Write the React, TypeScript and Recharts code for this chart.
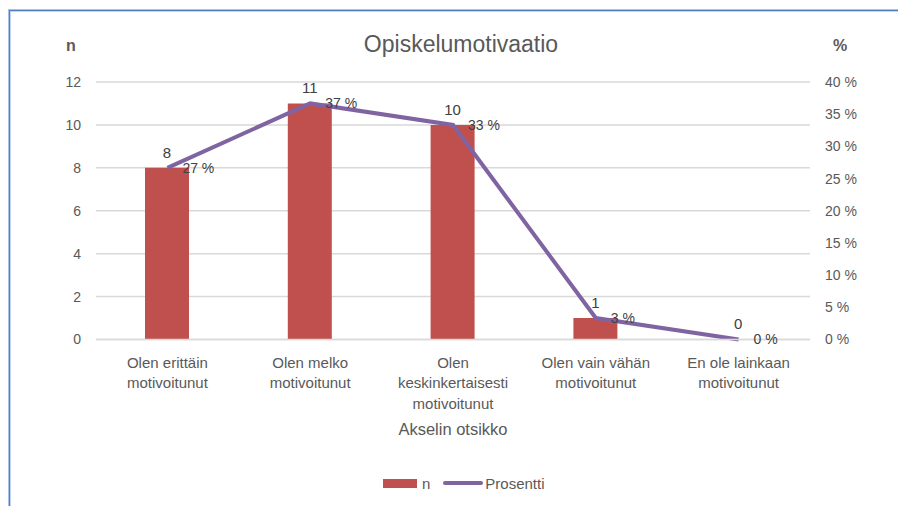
import React from 'react';
import {
  ComposedChart,
  Bar,
  Line,
  XAxis,
  YAxis,
  CartesianGrid,
  Legend,
  LabelList,
} from 'recharts';

const categories = [
  'Olen erittäin motivoitunut',
  'Olen melko motivoitunut',
  'Olen keskinkertaisesti motivoitunut',
  'Olen vain vähän motivoitunut',
  'En ole lainkaan motivoitunut',
];
const categoryLines = [
  ['Olen erittäin', 'motivoitunut'],
  ['Olen melko', 'motivoitunut'],
  ['Olen', 'keskinkertaisesti', 'motivoitunut'],
  ['Olen vain vähän', 'motivoitunut'],
  ['En ole lainkaan', 'motivoitunut'],
];
const nValues = [8, 11, 10, 1, 0];
const percentValues = [26.67, 36.67, 33.33, 3.33, 0];
const leftTicks = [0, 2, 4, 6, 8, 10, 12];
const rightTicks = [0, 5, 10, 15, 20, 25, 30, 35, 40];

const data = categories.map((c, i) => ({ name: c, n: nValues[i], Prosentti: percentValues[i] }));

const FONT = '"Liberation Sans", Arial, sans-serif';
const BAR_COLOR = '#C0504D';
const LINE_COLOR = '#8064A2';
const AXIS_TEXT = '#595959';
const LABEL_TEXT = '#404040';

const CategoryTick = (props: any) => {
  const { x, y, payload } = props;
  const idx = categories.indexOf(payload.value);
  const lines = idx >= 0 ? categoryLines[idx] : [String(payload.value)];
  return (
    <text x={x} y={y} textAnchor="middle" fill={AXIS_TEXT} fontSize={15} fontFamily={FONT}>
      {lines.map((l, i) => (
        <tspan key={i} x={x} dy={i === 0 ? 20 : 20.5}>
          {l}
        </tspan>
      ))}
    </text>
  );
};

const LegendContent = () => (
  <div
    style={{
      display: 'flex',
      justifyContent: 'flex-start',
      alignItems: 'center',
      height: 24,
      paddingLeft: 383,
      fontFamily: FONT,
      fontSize: 15,
      color: AXIS_TEXT,
    }}
  >
    <span style={{ display: 'inline-block', width: 34, height: 9, background: BAR_COLOR }} />
    <span style={{ marginLeft: 5 }}>n</span>
    <span
      style={{
        display: 'inline-block',
        width: 40,
        height: 4,
        borderRadius: 2,
        background: LINE_COLOR,
        marginLeft: 13,
      }}
    />
    <span style={{ marginLeft: 2 }}>Prosentti</span>
  </div>
);

export default function App() {
  return (
    <div
      style={{
        position: 'absolute',
        left: 0,
        top: 0,
        width: 898,
        height: 506,
        background: '#ffffff',
        overflow: 'hidden',
      }}
    >
      <div
        style={{
          position: 'absolute',
          left: 8,
          top: 9,
          width: 920,
          height: 520,
          borderTop: '1px solid #a9c1e6',
          borderLeft: '1px solid #a9c1e6',
        }}
      >
        <div
          style={{
            width: '100%',
            height: '100%',
            borderTop: '1px solid #4f7fc0',
            borderLeft: '1px solid #4f7fc0',
          }}
        >
          <div
            style={{
              width: '100%',
              height: '100%',
              borderTop: '1px solid #c3d4ee',
              borderLeft: '1px solid #c3d4ee',
            }}
          />
        </div>
      </div>
      <div
        style={{
          position: 'absolute',
          left: 0,
          width: 922,
          top: 29,
          textAlign: 'center',
          fontFamily: FONT,
          fontSize: 23,
          color: AXIS_TEXT,
          lineHeight: '30px',
        }}
      >
        Opiskelumotivaatio
      </div>
      <div
        style={{
          position: 'absolute',
          left: 66,
          top: 37,
          fontFamily: FONT,
          fontSize: 16,
          fontWeight: 'bold',
          color: AXIS_TEXT,
        }}
      >
        n
      </div>
      <div
        style={{
          position: 'absolute',
          left: 833,
          top: 37,
          fontFamily: FONT,
          fontSize: 16,
          fontWeight: 'bold',
          color: AXIS_TEXT,
        }}
      >
        %
      </div>
      <div style={{ position: 'absolute', left: 0, top: 0 }}>
        <ComposedChart
          width={898}
          height={506}
          data={data}
          margin={{ top: 82, right: 0, bottom: 11, left: 0 }}
        >
          <CartesianGrid yAxisId="left" vertical={false} stroke="#d9d9d9" strokeWidth={1.5} />
          <XAxis
            dataKey="name"
            axisLine={{ stroke: '#d9d9d9', strokeWidth: 1.5 }}
            tickLine={false}
            interval={0}
            height={131.5}
            tick={<CategoryTick />}
            label={{
              value: 'Akselin otsikko',
              position: 'insideBottom',
              offset: 36,
              fill: AXIS_TEXT,
              fontSize: 16.5,
              fontFamily: FONT,
            }}
          />
          <YAxis
            yAxisId="left"
            orientation="left"
            width={96}
            domain={[0, 12]}
            ticks={leftTicks}
            axisLine={false}
            tickLine={false}
            tickMargin={9}
            tick={{ fill: AXIS_TEXT, fontSize: 14, fontFamily: FONT }}
          />
          <YAxis
            yAxisId="right"
            orientation="right"
            width={88}
            domain={[0, 40]}
            ticks={rightTicks}
            axisLine={false}
            tickLine={false}
            tickMargin={9}
            tickFormatter={(v: number) => `${v} %`}
            tick={{ fill: AXIS_TEXT, fontSize: 14, fontFamily: FONT, textAnchor: 'start' }}
          />
          <Legend verticalAlign="bottom" align="center" content={<LegendContent />} />
          <Bar
            yAxisId="left"
            dataKey="n"
            fill={BAR_COLOR}
            barSize={44}
            minPointSize={0.01}
            isAnimationActive={false}
          >
            <LabelList
              dataKey="n"
              position="top"
              offset={10}
              fill={LABEL_TEXT}
              fontSize={15}
              fontFamily={FONT}
            />
          </Bar>
          <Line
            yAxisId="right"
            type="linear"
            dataKey="Prosentti"
            stroke={LINE_COLOR}
            strokeWidth={4}
            dot={false}
            activeDot={false}
            isAnimationActive={false}
          >
            <LabelList
              dataKey="Prosentti"
              position="right"
              offset={15}
              fill={LABEL_TEXT}
              fontSize={14}
              fontFamily={FONT}
              formatter={(v: any) => `${Math.round(Number(v))} %`}
            />
          </Line>
        </ComposedChart>
      </div>
    </div>
  );
}
